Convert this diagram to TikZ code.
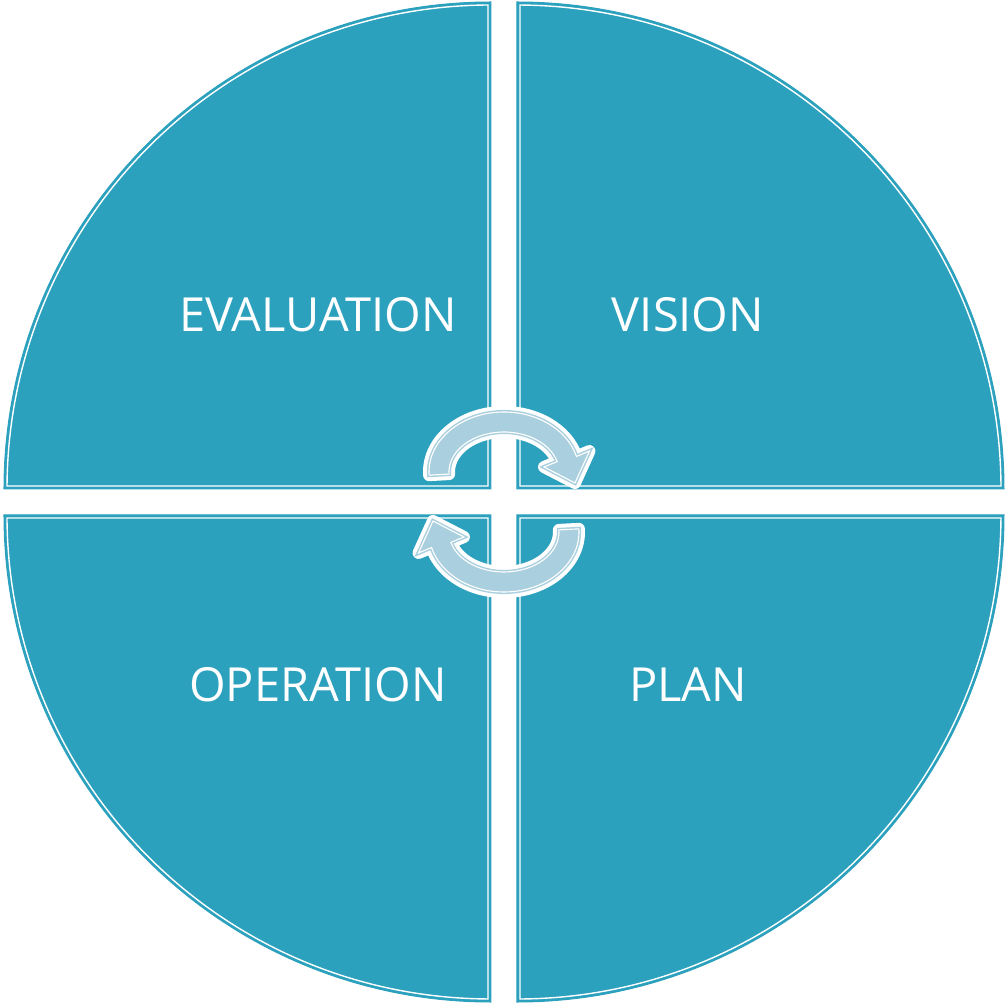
\documentclass[tikz,border=0pt]{standalone}
\usepackage{fontspec}
\setmainfont{Open Sans}
\usepackage{tikz}
\definecolor{sectorblue}{RGB}{44,161,190}
\definecolor{arrowblue}{RGB}{170,207,222}

\begin{document}
\begin{tikzpicture}[x=1pt,y=1pt,
  sector/.style={fill=sectorblue,draw=sectorblue,line width=1pt},
  sectorline/.style={draw=white,line width=1.4pt},
  sectortext/.style={text=white,font=\fontsize{47}{56}\selectfont},
  halo/.style={draw=white,fill=white,line width=12pt,line join=round},
  cyclearrow/.style={fill=arrowblue,draw=arrowblue,double=white,double distance=1.1pt,line width=1.5pt,preaction={halo}}]
\useasboundingbox (-504,-502) rectangle (501,502);

%%Quadrants
\foreach \a in {0,90,180,270}{
  \begin{scope}[rotate=\a]
    \draw[sector] (13,13) -- (500,13) arc[start angle=0,end angle=90,radius=487] -- cycle;
    \draw[sectorline] (16,16) -- (497,16) arc[start angle=0.355,end angle=89.645,radius=484] -- cycle;
  \end{scope}
}

%%Arrows
\foreach \a in {0,180}{
  \begin{scope}[rotate=\a,shift={(0,30)}]
    \path[cyclearrow] (183:55 and 40) -- (183:75 and 60)
      arc[start angle=183,end angle=15,x radius=75,y radius=60]
      -- (85.5,21) -- (71,-11) -- (40,5) -- (15:55 and 40)
      arc[start angle=15,end angle=183,x radius=55,y radius=40] -- cycle;
  \end{scope}
}

%%Label
\node[sectortext] (evaluation) at (-186,187) {EVALUATION};
\node[sectortext] (vision) at (184,187) {VISION};
\node[sectortext] (operation) at (-186,-183) {OPERATION};
\node[sectortext] (plan) at (184,-183) {PLAN};
\end{tikzpicture}
\end{document}
